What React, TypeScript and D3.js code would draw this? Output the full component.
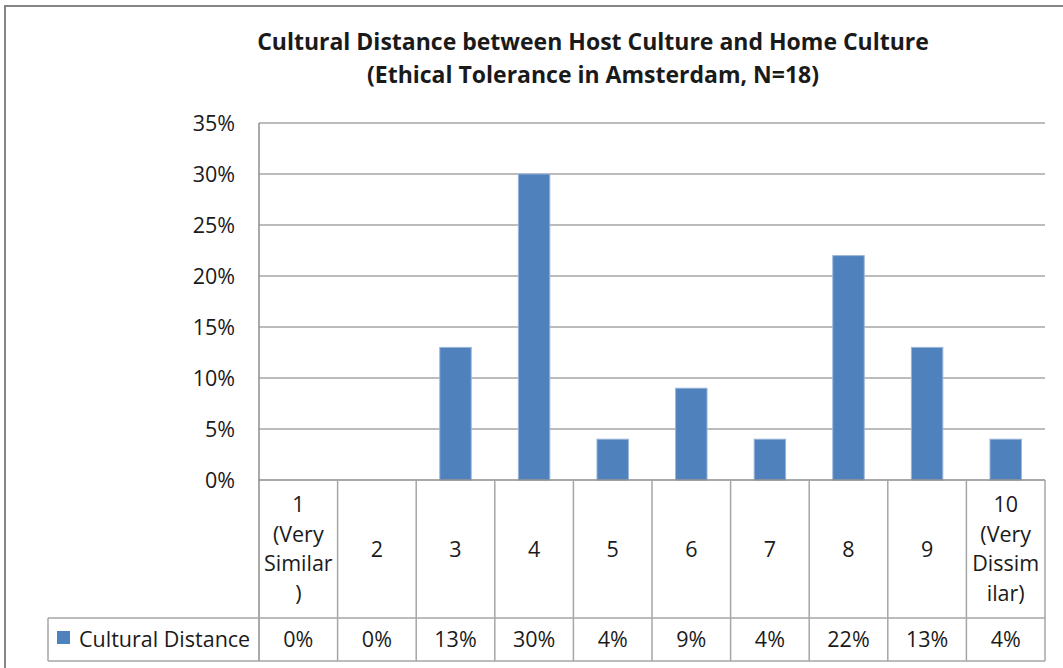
import React from "react";
import * as d3 from "d3";

// Distance scores 1..10, each label split into the lines shown in its table cell
const categories: string[][] = [
  ["1", "(Very", "Similar", ")"],
  ["2"],
  ["3"],
  ["4"],
  ["5"],
  ["6"],
  ["7"],
  ["8"],
  ["9"],
  ["10", "(Very", "Dissim", "ilar)"],
];
const seriesName = "Cultural Distance";
const values: number[] = [0, 0, 0.13, 0.3, 0.04, 0.09, 0.04, 0.22, 0.13, 0.04];
const yTicks: number[] = [0, 0.05, 0.1, 0.15, 0.2, 0.25, 0.3, 0.35];
const titleLines: string[] = [
  "Cultural Distance between Host Culture and Home Culture",
  "(Ethical Tolerance in Amsterdam, N=18)",
];

const W = 1063;
const H = 668;
const FONT = "'Open Sans', sans-serif";
const BAR = "#4F81BD";
const GRID = "#a6a6a6";
const AXIS = "#8c8c8c";
const TEXT = "#1a1a1a";
const FS = 21.5;

const plot = { left: 259, right: 1045, top: 123, bottom: 480 };
const catRowBottom = 618;
const valRowBottom = 661;
const legendLeft = 48;

export default function App() {
  const x = d3
    .scaleBand<number>()
    .domain(d3.range(categories.length))
    .range([plot.left, plot.right])
    .padding(0);
  const y = d3.scaleLinear().domain([0, 0.35]).range([plot.bottom, plot.top]);
  const fmt = d3.format(".0%");
  const bw = x.bandwidth();
  const barW = bw * 0.4;
  const lineH = 29.5;

  return (
    <svg
      width={W}
      height={H}
      style={{ position: "fixed", left: 0, top: 0, background: "#fff" }}
      fontFamily={FONT}
    >
      <rect x={0} y={0} width={W} height={H} fill="#fff" />
      {/* chart frame */}
      <rect x={5} y={6} width={W + 40} height={H + 40} fill="none" stroke="#858585" strokeWidth={2} />

      {/* title */}
      {titleLines.map((t, i) => (
        <text
          key={i}
          x={593}
          y={50 + i * 33}
          textAnchor="middle"
          fontWeight="bold"
          fontSize={23}
          fill={TEXT}
        >
          {t}
        </text>
      ))}

      {/* gridlines and y labels */}
      {yTicks.map((t) => (
        <g key={t}>
          {t > 0 && (
            <line x1={plot.left} x2={plot.right} y1={y(t)} y2={y(t)} stroke={GRID} strokeWidth={1.5} />
          )}
          <text x={235} y={y(t)} dy="0.35em" textAnchor="end" fontSize={FS} fill={TEXT}>
            {fmt(t)}
          </text>
        </g>
      ))}

      {/* bars */}
      {values.map((v, i) => (
        <rect
          key={i}
          x={(x(i) as number) + (bw - barW) / 2}
          y={y(v)}
          width={barW}
          height={Math.max(0, y(0) - y(v))}
          fill={BAR}
          stroke="#9ab5d9"
          strokeWidth={1}
          style={{ display: v > 0 ? undefined : "none" }}
        />
      ))}

      {/* axes */}
      <line x1={plot.left} x2={plot.left} y1={plot.top} y2={valRowBottom} stroke={AXIS} strokeWidth={1.5} />
      <line x1={plot.left} x2={plot.right} y1={plot.bottom} y2={plot.bottom} stroke={AXIS} strokeWidth={1.5} />

      {/* data table */}
      <g stroke={GRID} strokeWidth={1.5}>
        <line x1={legendLeft} x2={plot.right} y1={catRowBottom} y2={catRowBottom} />
        <line x1={legendLeft} x2={plot.right} y1={valRowBottom} y2={valRowBottom} />
        <line x1={legendLeft} x2={legendLeft} y1={catRowBottom} y2={valRowBottom} />
        {categories.map((_, i) => (
          <line
            key={i}
            x1={(x(i) as number) + bw}
            x2={(x(i) as number) + bw}
            y1={plot.bottom}
            y2={valRowBottom}
          />
        ))}
      </g>

      {/* category labels */}
      {categories.map((lines, i) => {
        const cx = (x(i) as number) + bw / 2;
        const cy = (plot.bottom + catRowBottom) / 2;
        const startY = cy - ((lines.length - 1) * lineH) / 2;
        return (
          <text key={i} textAnchor="middle" fontSize={FS} fill={TEXT}>
            {lines.map((l, j) => (
              <tspan key={j} x={cx} y={startY + j * lineH} dy="0.35em">
                {l}
              </tspan>
            ))}
          </text>
        );
      })}

      {/* value row */}
      {values.map((v, i) => (
        <text
          key={i}
          x={(x(i) as number) + bw / 2}
          y={(catRowBottom + valRowBottom) / 2}
          dy="0.35em"
          textAnchor="middle"
          fontSize={FS}
          fill={TEXT}
        >
          {fmt(v)}
        </text>
      ))}

      {/* legend key */}
      <rect x={57} y={631} width={13} height={13} fill={BAR} />
      <text x={79} y={(catRowBottom + valRowBottom) / 2} dy="0.35em" fontSize={FS} fill={TEXT}>
        {seriesName}
      </text>
    </svg>
  );
}
